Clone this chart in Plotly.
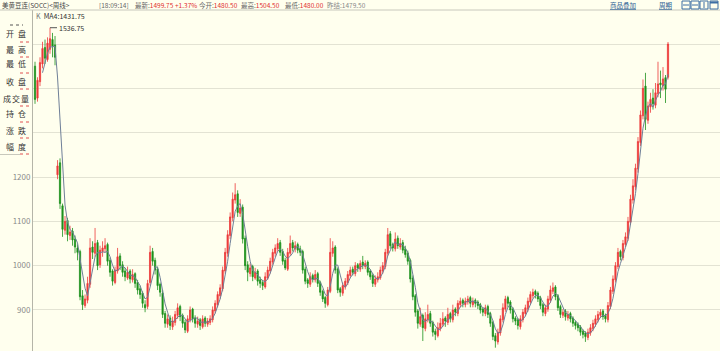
import plotly.graph_objects as go
import pandas as pd

# ---------------- data (weekly candles) ----------------
opens = [1450, 1378, 1415, 1455, 1492, 1465, 1488, 1510, 1498, 1205,
         1232, 1135, 1080, 1102, 1068, 1078, 1060, 1040, 1032, 932,
         910, 922, 958, 1042, 1028, 1052, 1002, 1032, 1038, 1048,
         1012, 988, 962, 988, 1022, 1002, 988, 972, 988, 968,
         982, 962, 948, 938, 912, 908, 962, 1032, 1012, 992,
         958, 938, 892, 868, 882, 862, 872, 888, 908, 888,
         872, 852, 878, 902, 882, 868, 878, 862, 882, 868,
         872, 878, 898, 912, 932, 948, 988, 1028, 1068, 1108,
         1148, 1162, 1118, 1132, 1062, 1002, 982, 998, 972, 988,
         968, 962, 952, 972, 988, 1008, 1028, 1038, 1052, 1032,
         1012, 992, 1028, 1052, 1038, 1048, 1038, 1032, 992, 968,
         958, 978, 968, 982, 962, 942, 928, 912, 942, 1028,
         1042, 992, 948, 938, 952, 962, 978, 992, 982, 1002,
         992, 1008, 998, 1008, 988, 978, 958, 968, 972, 988,
         998, 1028, 1072, 1048, 1038, 1062, 1042, 1052, 1038, 1028,
         1012, 972, 932, 898, 868, 888, 858, 878, 892, 872,
         852, 842, 858, 868, 882, 872, 892, 878, 902, 892,
         912, 922, 912, 918, 928, 912, 922, 918, 912, 902,
         892, 908, 892, 872, 842, 828, 848, 878, 902, 928,
         918, 902, 882, 878, 862, 878, 892, 902, 918, 932,
         942, 938, 928, 912, 892, 902, 922, 942, 952, 932,
         908, 888, 898, 882, 892, 882, 872, 868, 862, 852,
         848, 838, 848, 858, 868, 878, 888, 898, 888, 878,
         908, 942, 968, 998, 1032, 1018, 1048, 1062, 1098, 1148,
         1178, 1218, 1278, 1338, 1405, 1328, 1358, 1378, 1362, 1388,
         1412, 1406, 1424, 1425]
highs = [1460, 1425, 1470, 1505, 1510, 1515, 1536.75, 1525, 1518, 1238,
         1242, 1140, 1112, 1108, 1090, 1085, 1068, 1048, 1036, 945,
         935, 975, 1062, 1055, 1085, 1058, 1045, 1055, 1062, 1052,
         1018, 992, 998, 1040, 1028, 1010, 995, 998, 992, 992,
         985, 968, 955, 942, 922, 968, 1045, 1040, 1018, 998,
         962, 945, 898, 890, 888, 885, 898, 915, 912, 892,
         878, 888, 908, 905, 888, 885, 882, 888, 886, 882,
         888, 908, 922, 942, 958, 998, 1040, 1080, 1120, 1165,
         1186, 1170, 1150, 1138, 1068, 1010, 1005, 1002, 995, 992,
         975, 968, 985, 998, 1018, 1038, 1048, 1062, 1058, 1038,
         1018, 1040, 1068, 1058, 1055, 1052, 1045, 1036, 998, 972,
         985, 982, 990, 986, 966, 946, 932, 952, 1062, 1055,
         1046, 996, 952, 962, 972, 988, 998, 998, 1008, 1006,
         1012, 1022, 1012, 1012, 992, 982, 978, 985, 998, 1008,
         1038, 1085, 1078, 1052, 1075, 1068, 1062, 1058, 1045, 1034,
         1016, 978, 936, 902, 905, 892, 895, 912, 898, 876,
         858, 872, 882, 895, 886, 905, 896, 912, 906, 922,
         928, 926, 928, 932, 932, 928, 926, 922, 916, 906,
         912, 912, 896, 876, 848, 858, 888, 915, 932, 932,
         922, 906, 886, 882, 888, 902, 912, 928, 942, 948,
         946, 942, 932, 916, 912, 932, 955, 962, 956, 936,
         912, 902, 902, 898, 896, 886, 876, 872, 866, 856,
         852, 858, 868, 878, 888, 898, 902, 902, 892, 918,
         952, 978, 1008, 1040, 1036, 1058, 1075, 1110, 1160, 1195,
         1230, 1290, 1350, 1420, 1435, 1370, 1390, 1398, 1412, 1460,
         1440, 1448, 1430, 1504.5]
lows = [1365, 1370, 1405, 1445, 1455, 1460, 1478, 1470, 1452, 1195,
        1128, 1065, 1070, 1055, 1058, 1045, 1028, 1012, 922, 900,
        905, 915, 950, 1015, 1020, 990, 995, 1020, 1030, 1000,
        975, 955, 958, 982, 990, 975, 965, 968, 960, 962,
        950, 935, 925, 905, 895, 902, 955, 1000, 980, 945,
        930, 882, 860, 860, 855, 855, 865, 880, 875, 860,
        848, 848, 872, 872, 860, 860, 855, 858, 862, 862,
        866, 872, 892, 906, 925, 942, 982, 1020, 1060, 1100,
        1140, 1110, 1110, 1050, 990, 965, 975, 965, 968, 955,
        950, 945, 948, 968, 982, 1002, 1020, 1032, 1022, 1002,
        990, 988, 1022, 1032, 1030, 1028, 1022, 982, 958, 950,
        952, 962, 962, 952, 932, 918, 905, 908, 938, 1020,
        982, 938, 930, 932, 946, 956, 972, 978, 976, 986,
        986, 992, 992, 978, 968, 952, 952, 962, 968, 982,
        992, 1022, 1038, 1032, 1032, 1038, 1036, 1028, 1018, 1002,
        962, 922, 885, 858, 862, 830, 852, 872, 862, 840,
        832, 838, 852, 862, 862, 866, 872, 872, 886, 886,
        906, 906, 906, 912, 906, 906, 906, 902, 892, 886,
        886, 882, 862, 832, 815, 822, 842, 872, 896, 906,
        892, 872, 866, 856, 856, 872, 886, 896, 912, 926,
        926, 918, 902, 886, 886, 896, 916, 936, 922, 898,
        882, 882, 876, 876, 872, 862, 856, 852, 842, 836,
        828, 832, 842, 852, 862, 872, 882, 878, 872, 872,
        902, 936, 962, 992, 1012, 1012, 1042, 1056, 1092, 1140,
        1170, 1210, 1270, 1330, 1306, 1320, 1345, 1352, 1355, 1380,
        1378, 1395, 1367, 1420]
closes = [1375, 1418, 1458, 1490, 1468, 1502, 1512, 1495, 1470, 1225,
          1140, 1082, 1100, 1070, 1076, 1058, 1042, 1030, 930, 912,
          925, 960, 1040, 1030, 1050, 1000, 1035, 1040, 1045, 1010,
          985, 965, 990, 1020, 1000, 985, 975, 985, 970, 980,
          960, 945, 935, 915, 905, 960, 1030, 1010, 990, 955,
          940, 890, 870, 880, 865, 875, 890, 905, 885, 870,
          855, 880, 900, 880, 870, 875, 865, 880, 870, 875,
          880, 900, 915, 935, 950, 990, 1030, 1070, 1110, 1150,
          1160, 1120, 1130, 1060, 1000, 985, 995, 975, 985, 965,
          960, 955, 975, 990, 1010, 1030, 1040, 1050, 1030, 1010,
          995, 1030, 1050, 1040, 1045, 1035, 1030, 990, 965, 960,
          975, 970, 980, 960, 940, 925, 915, 945, 1030, 1040,
          990, 945, 940, 955, 965, 980, 990, 985, 1000, 995,
          1005, 1000, 1005, 985, 975, 960, 970, 975, 990, 1000,
          1030, 1070, 1045, 1040, 1060, 1045, 1050, 1035, 1025, 1010,
          970, 930, 895, 870, 885, 860, 880, 890, 870, 850,
          845, 860, 870, 880, 875, 890, 880, 900, 895, 915,
          920, 915, 920, 925, 915, 920, 915, 910, 900, 895,
          905, 890, 870, 840, 830, 850, 880, 905, 925, 915,
          900, 880, 875, 865, 880, 895, 905, 920, 935, 940,
          935, 925, 910, 895, 905, 925, 945, 950, 930, 905,
          890, 895, 885, 890, 880, 870, 865, 860, 850, 845,
          840, 850, 860, 870, 880, 890, 895, 885, 880, 910,
          945, 970, 1000, 1030, 1020, 1050, 1065, 1100, 1150, 1180,
          1220, 1280, 1340, 1400, 1330, 1360, 1375, 1365, 1390, 1410,
          1408, 1421.25, 1398, 1499.75]

grid_levels = [900, 1000, 1100, 1200, 1300, 1400, 1500]
grid_labels = ["900", "1000", "1100", "1200", "", "", ""]
panel_labels = ["开盘", "最高", "最低", "收盘", "成交量", "持仓", "涨跌", "幅度"]

title_text = "美黄豆连(SOCC)<周线>"
quote_fields = [("[18:09:14]", ""), ("最新:", "1499.75"), ("", "+1.37%"),
                ("今开:", "1480.50"), ("最高:", "1504.50"), ("最低:", "1480.00"),
                ("昨结:", "1479.50")]

# ---------------- styling ----------------
BG = "#FFFFEE"
RED = "#EC3A3A"
GREEN = "#1C901C"
MA_COLOR = "#6F7F98"
GRID = "#E3E3D3"
AXIS = "#B5B5A8"
FONT = "Noto Sans CJK SC"
HF = 6.5

W, H = 720, 351
ML, MT = 33, 10
PW, PH = W - ML, H - MT


def PX(px):
    return (px - ML) / PW


def PY(py):
    return (H - py) / PH


n = len(closes)
x_idx = list(range(n))
ma4 = pd.Series(closes).rolling(4).mean()

fig = go.Figure()
fig.add_trace(go.Candlestick(
    x=x_idx, open=opens, high=highs, low=lows, close=closes,
    increasing=dict(line=dict(color=RED, width=0.8), fillcolor=RED),
    decreasing=dict(line=dict(color=GREEN, width=0.8), fillcolor=GREEN),
    whiskerwidth=0, hoverinfo="skip", showlegend=False))
fig.add_trace(go.Scatter(x=x_idx, y=ma4, mode="lines",
                         line=dict(color=MA_COLOR, width=1),
                         hoverinfo="skip", showlegend=False))

# x range so that candle 0 sits at px 35 and the last at px 668
unit = (668 - 35) / (n - 1)
x0 = -(35 - ML) / unit
x1 = x0 + PW / unit

y_bottom, y_top = 807.5, 1576.7

annotations = []
shapes = []

# header
annotations.append(dict(text=title_text, x=PX(0), y=PY(5), xref="paper", yref="paper",
                        xanchor="left", yanchor="middle", showarrow=False,
                        font=dict(family=FONT, size=HF, color="#444")))
field_px = [97, 133, 173, 197, 239, 283, 325]
for (lab, val), px in zip(quote_fields, field_px):
    if lab == "昨结:":
        annotations.append(dict(text=lab + val, x=PX(px), y=PY(5), xref="paper", yref="paper",
                                xanchor="left", yanchor="middle", showarrow=False,
                                font=dict(family=FONT, size=HF, color="#888")))
        continue
    parts = ""
    if lab:
        parts += "<span style='color:#666'>" + lab + "</span>"
    if val:
        parts += "<span style='color:#E03030'>" + val + "</span>"
    annotations.append(dict(text=parts, x=PX(px), y=PY(5), xref="paper", yref="paper",
                            xanchor="left", yanchor="middle", showarrow=False,
                            font=dict(family=FONT, size=HF, color="#666")))

annotations.append(dict(text="<u>商品叠加</u>", x=PX(608), y=PY(5), xref="paper", yref="paper",
                        xanchor="left", yanchor="middle", showarrow=False,
                        font=dict(family=FONT, size=HF, color="#2B5E93")))
annotations.append(dict(text="<u>周期</u>", x=PX(657), y=PY(5), xref="paper", yref="paper",
                        xanchor="left", yanchor="middle", showarrow=False,
                        font=dict(family=FONT, size=HF, color="#2B5E93")))

# header separator line
shapes.append(dict(type="line", xref="paper", yref="paper", x0=PX(0), x1=PX(720),
                   y0=PY(10), y1=PY(10), line=dict(color="#C8C8BC", width=1)))

# icon buttons
ICON = "#3C6EA3"
for bx in [682, 691, 700, 710]:
    shapes.append(dict(type="rect", xref="paper", yref="paper", x0=PX(bx), x1=PX(bx + 8),
                       y0=PY(9), y1=PY(1), line=dict(color=ICON, width=1)))
for bx in [682, 691]:
    shapes.append(dict(type="line", xref="paper", yref="paper", x0=PX(bx + 1), x1=PX(bx + 7),
                       y0=PY(5), y1=PY(5), line=dict(color=ICON, width=1)))
shapes.append(dict(type="line", xref="paper", yref="paper", x0=PX(704), x1=PX(704),
                   y0=PY(8), y1=PY(2), line=dict(color=ICON, width=1)))
shapes.append(dict(type="line", xref="paper", yref="paper", x0=PX(710), x1=PX(718),
                   y0=PY(2.5), y1=PY(2.5), line=dict(color=ICON, width=2)))

# K / MA legend text
annotations.append(dict(text="<span style='color:#777'>K</span>  MA4:%.2f" % ma4.iloc[-1],
                        x=PX(34), y=PY(16), xref="paper", yref="paper",
                        xanchor="left", yanchor="middle", showarrow=False,
                        font=dict(family=FONT, size=7, color="#333")))

# max high marker
imax = max(range(n), key=lambda i: highs[i])
annotations.append(dict(text="%.2f" % highs[imax], x=imax, y=highs[imax], xref="x", yref="y",
                        showarrow=True, arrowhead=0, arrowwidth=1, arrowcolor="#555",
                        ax=7, ay=0, xanchor="left", yanchor="middle",
                        font=dict(family=FONT, size=7, color="#333")))

# left info panel
label_rows_y = [33, 49, 64, 81, 98, 114, 130, 146]
dash_rows_y = [42, 57, 73, 89, 106, 122, 138, 154]
for lab, yy in zip(panel_labels, label_rows_y):
    if len(lab) == 2:
        xs = [10, 22]
    else:
        xs = [7, 16, 25]
    for ch, cx in zip(lab, xs):
        annotations.append(dict(text=ch, x=PX(cx), y=PY(yy), xref="paper", yref="paper",
                                xanchor="center", yanchor="middle", showarrow=False,
                                font=dict(family=FONT, size=8, color="#333")))
for yy in dash_rows_y:
    shapes.append(dict(type="line", xref="paper", yref="paper", x0=PX(20), x1=PX(32),
                       y0=PY(yy), y1=PY(yy), line=dict(color="#E05050", width=1, dash="dot")))
shapes.append(dict(type="line", xref="paper", yref="paper", x0=PX(10), x1=PX(23),
                   y0=PY(25), y1=PY(25), line=dict(color="#555", width=1, dash="dot")))
shapes.append(dict(type="line", xref="paper", yref="paper", x0=PX(0), x1=PX(20),
                   y0=PY(154.5), y1=PY(154.5), line=dict(color="#C8C8BC", width=1)))

fig.update_layout(
    width=W, height=H, margin=dict(l=ML, r=0, t=MT, b=0),
    paper_bgcolor=BG, plot_bgcolor=BG, showlegend=False, hovermode=False,
    font=dict(family=FONT),
    xaxis=dict(range=[x0, x1], rangeslider=dict(visible=False), showgrid=False,
               showticklabels=False, zeroline=False, showline=False, ticks=""),
    yaxis=dict(range=[y_bottom, y_top], tickvals=grid_levels, ticktext=grid_labels,
               showgrid=True, gridcolor=GRID, gridwidth=1, zeroline=False,
               showline=True, linecolor=AXIS, linewidth=1, ticks="",
               tickfont=dict(family=FONT, size=8, color="#8A8A8A")),
    annotations=annotations, shapes=shapes,
)

fig.write_html("out.html")
